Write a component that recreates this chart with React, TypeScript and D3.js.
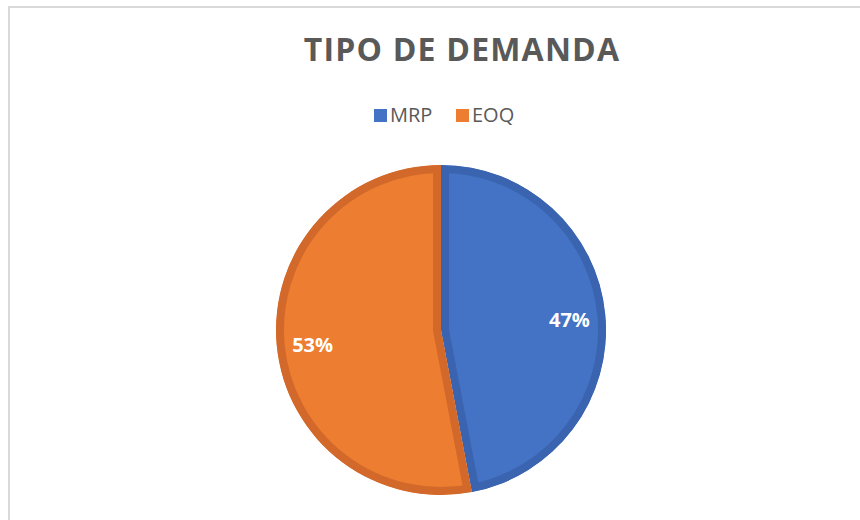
import React from 'react';
import * as d3 from 'd3';

const categories = ['MRP', 'EOQ'];
const values = [47, 53];
const fills = ['#4472C4', '#ED7D31'];
const borders = ['#3A64AF', '#D2692A'];

const W = 860;
const H = 520;
const cx = 441;
const cy = 330;
const R = 165;

export default function App() {
  const pie = d3.pie<number>().sort(null).value((d) => d);
  const arcs = pie(values);
  const arcGen = d3.arc<d3.PieArcDatum<number>>().innerRadius(0).outerRadius(R);
  const labelArc = d3.arc<d3.PieArcDatum<number>>().innerRadius(129).outerRadius(129);
  const total = d3.sum(values);

  // legend layout
  const legendX = [374, 456];

  return (
    <svg
      width={W}
      height={H}
      style={{ position: 'absolute', left: 0, top: 0, background: '#fff' }}
      fontFamily="'Open Sans', sans-serif"
    >
      <rect x={9} y={7} width={W + 20} height={H + 20} fill="#fff" stroke="#d9d9d9" strokeWidth={2} />
      <text x={cx + 21} y={61} textAnchor="middle" fontSize={32} fontWeight={700} fill="#595959" letterSpacing={1.2}>
        TIPO DE DEMANDA
      </text>
      {categories.map((c, i) => (
        <g key={c} transform={`translate(${legendX[i]},109)`}>
          <rect width={13} height={13} fill={fills[i]} />
          <text x={16} y={13} fontSize={20} fill="#595959">{c}</text>
        </g>
      ))}
      <defs>
        {arcs.map((a, i) => (
          <clipPath id={`clip${i}`} key={i}>
            <path d={arcGen(a) || ''} />
          </clipPath>
        ))}
      </defs>
      <g transform={`translate(${cx},${cy})`}>
        {arcs.map((a, i) => (
          <path
            key={i}
            d={arcGen(a) || ''}
            fill={fills[i]}
            stroke={borders[i]}
            strokeWidth={16}
            clipPath={`url(#clip${i})`}
          />
        ))}
        {arcs.map((a, i) => {
          const [x, y] = labelArc.centroid(a);
          return (
            <text
              key={`l${i}`}
              x={x}
              y={y + 2}
              textAnchor="middle"
              dominantBaseline="central"
              fontSize={20}
              fontWeight={700}
              fill="#fff"
            >
              {Math.round((values[i] / total) * 100)}%
            </text>
          );
        })}
      </g>
    </svg>
  );
}
